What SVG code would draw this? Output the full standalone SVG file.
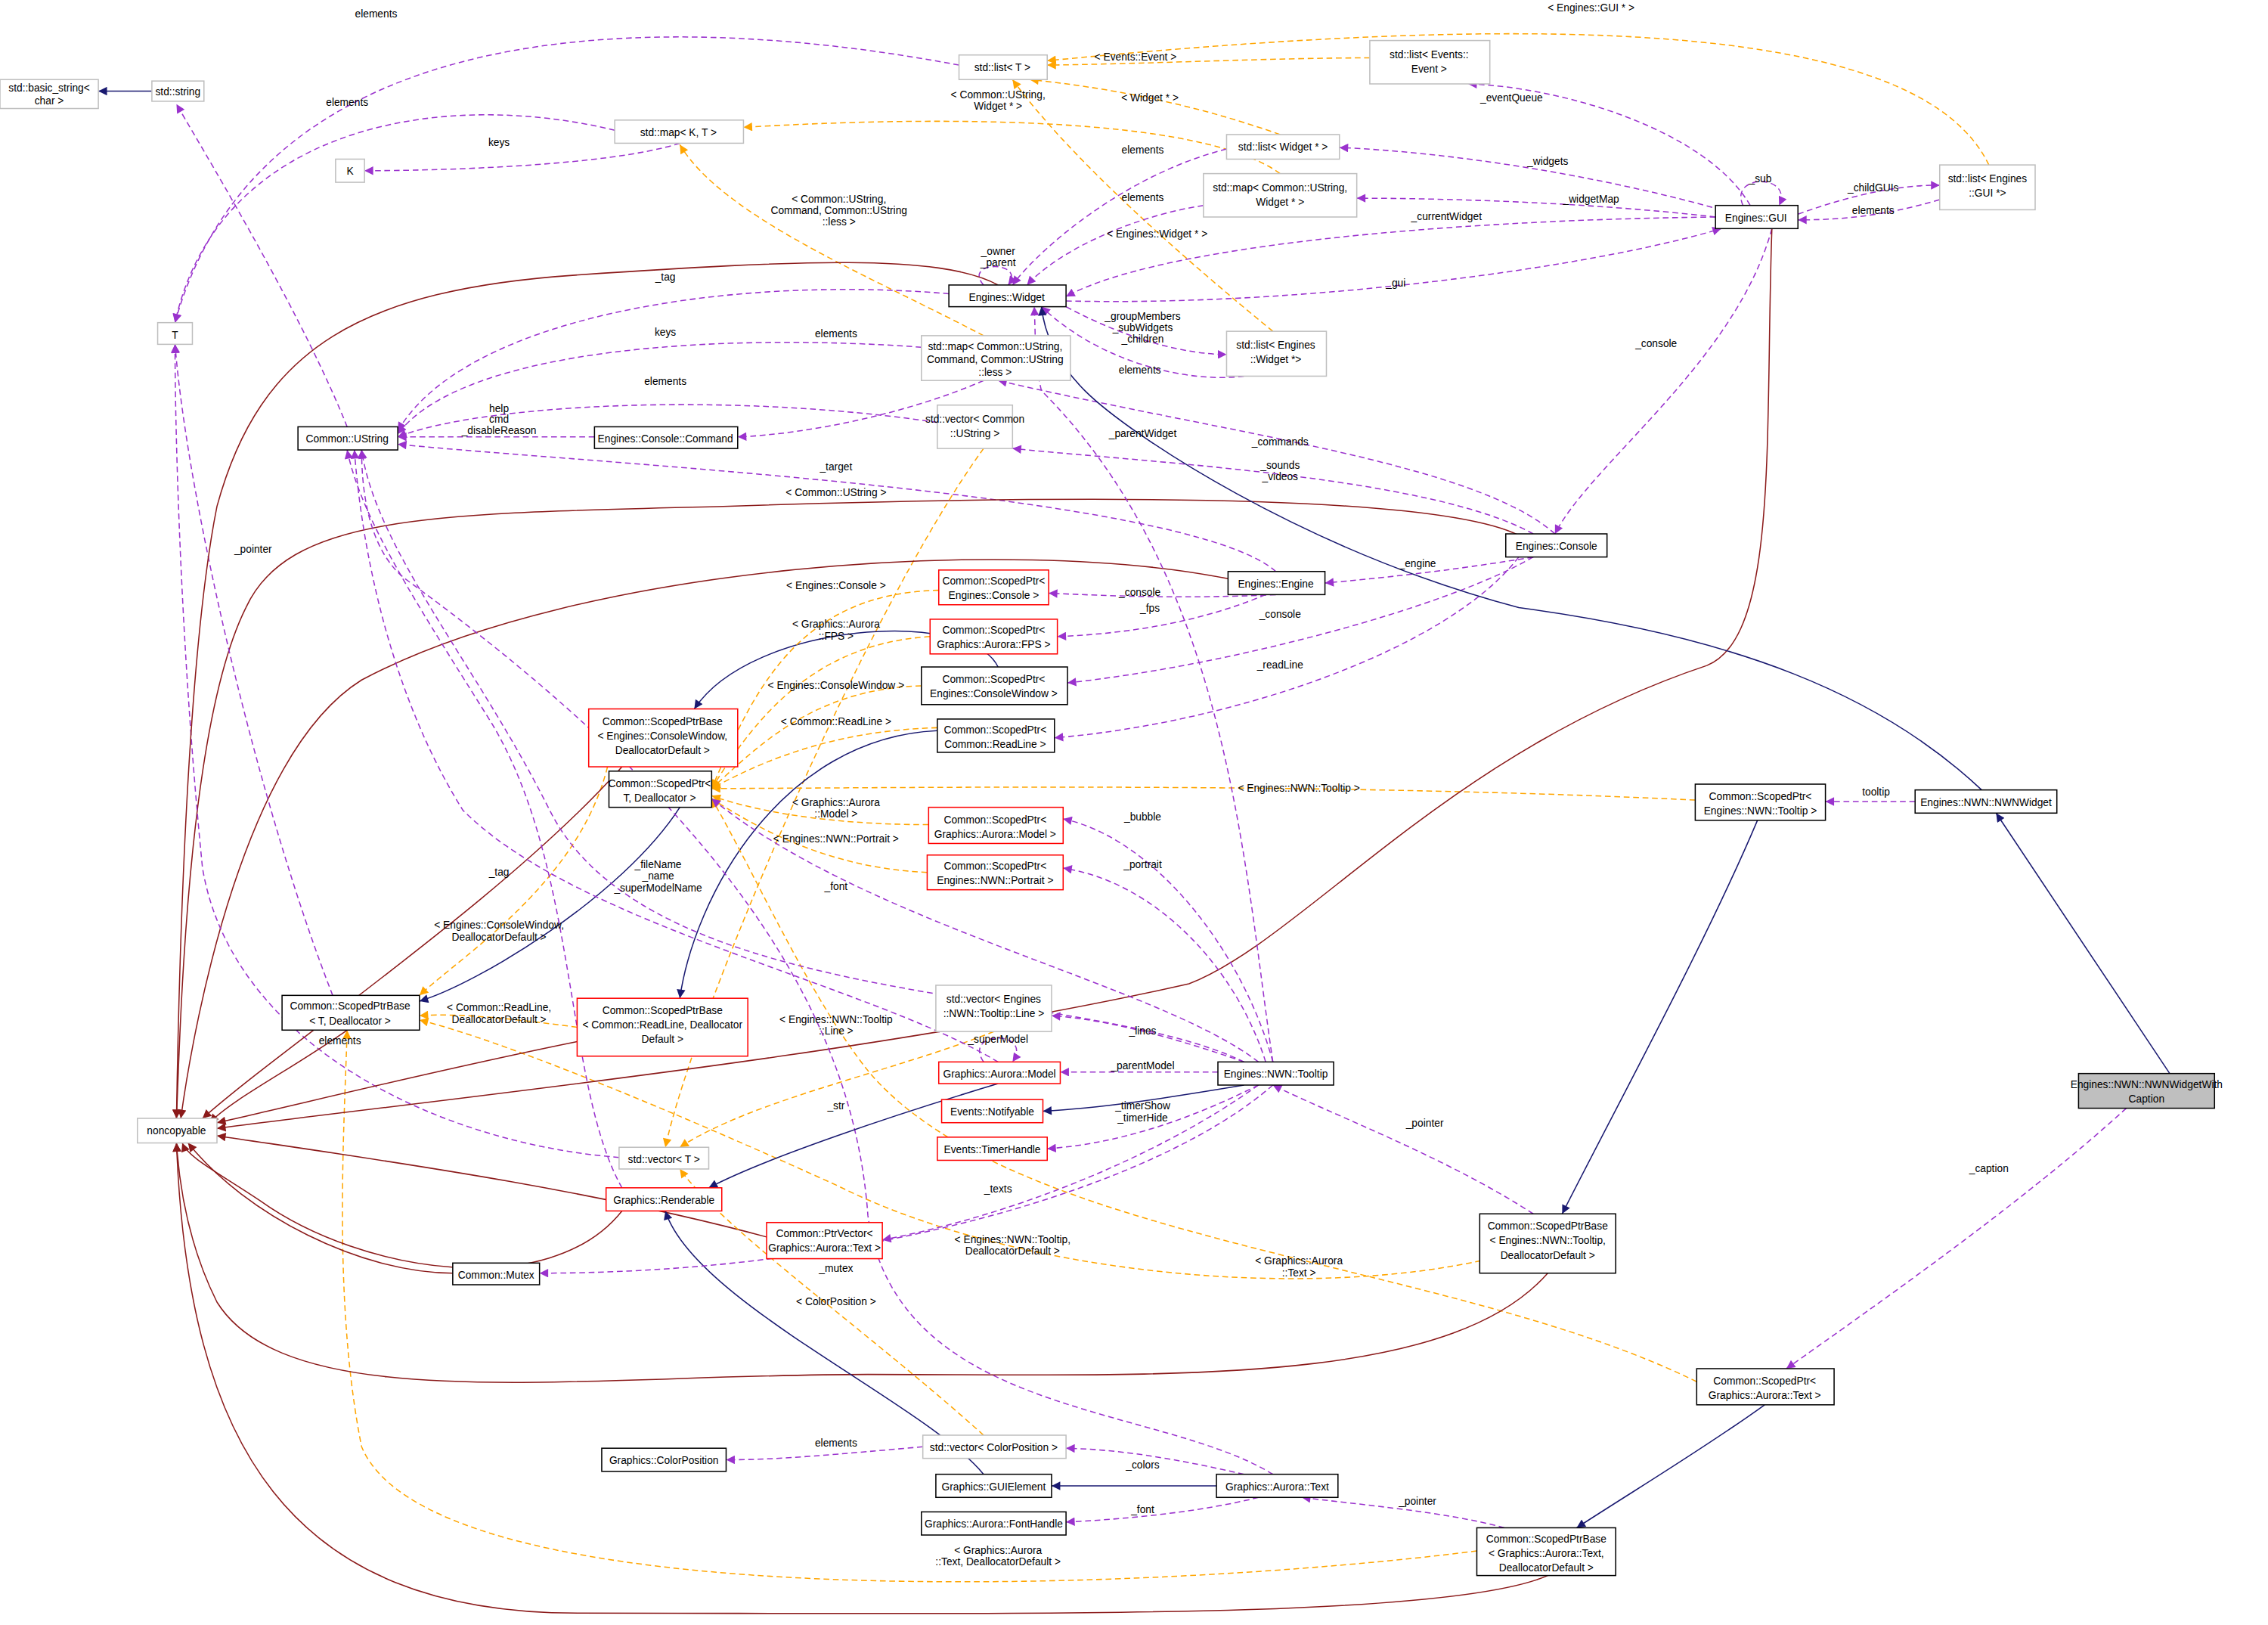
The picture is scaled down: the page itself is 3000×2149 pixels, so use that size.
<svg xmlns="http://www.w3.org/2000/svg" width="3000" height="2149" viewBox="0 0 3000 2149">
<style>
text{font-family:"Liberation Sans",Arial,sans-serif;font-size:7.2px;fill:#000}
.n text{text-anchor:middle}
.n rect{fill:#fff;stroke-width:0.8}
.b rect{stroke:#000}.r rect{stroke:#f00}.g rect{stroke:#bfbfbf}
.e path{fill:none;stroke-width:0.8}
.p{stroke:#9a32cd;stroke-dasharray:4,2.5;marker-end:url(#mp)}
.o{stroke:#ffa500;stroke-dasharray:4,2.5;marker-end:url(#mo)}
.v{stroke:#191970;marker-end:url(#mv)}
.d{stroke:#8b1a1a;marker-end:url(#md)}
.l text{text-anchor:middle}
</style>
<defs>
<marker id="mp" viewBox="0 0 10 10" refX="10" refY="5" markerWidth="8" markerHeight="6" markerUnits="userSpaceOnUse" orient="auto"><path d="M0,0L10,5L0,10z" fill="#9a32cd"/></marker>
<marker id="mo" viewBox="0 0 10 10" refX="10" refY="5" markerWidth="8" markerHeight="6" markerUnits="userSpaceOnUse" orient="auto"><path d="M0,0L10,5L0,10z" fill="#ffa500"/></marker>
<marker id="mv" viewBox="0 0 10 10" refX="10" refY="5" markerWidth="8" markerHeight="6" markerUnits="userSpaceOnUse" orient="auto"><path d="M0,0L10,5L0,10z" fill="#191970"/></marker>
<marker id="md" viewBox="0 0 10 10" refX="10" refY="5" markerWidth="8" markerHeight="6" markerUnits="userSpaceOnUse" orient="auto"><path d="M0,0L10,5L0,10z" fill="#8b1a1a"/></marker>
</defs>
<rect width="3000" height="2149" fill="#fff"/>
<g transform="scale(1.9133)">
<g id="edges" class="e">
<path class="v" d="M105,63L68,63"/>
<path class="p" d="M240,295C210,220 150,120 122,72"/>
<path class="p" d="M663,45C450,5 180,10 121,223"/>
<path class="p" d="M425,90C300,60 150,90 121,223"/>
<path class="p" d="M470,99C420,115 300,118 252,118"/>
<path class="o" d="M885,120C830,80 650,80 514,88"/>
<path class="o" d="M680,232C600,190 500,150 470,100"/>
<path class="o" d="M947,40C880,40 800,44 724,45"/>
<path class="o" d="M885,93C820,70 760,60 712,55"/>
<path class="o" d="M1375,114C1330,20 1100,5 724,42"/>
<path class="o" d="M880,229C820,180 740,110 700,55"/>
<path class="p" d="M1210,142C1180,90 1080,60 1015,58"/>
<path class="p" d="M1190,145C1100,120 1000,105 926,102"/>
<path class="p" d="M1186,150C1100,140 1000,137 938,137"/>
<path class="p" d="M1186,150C1000,152 800,170 737,205"/>
<path class="p" d="M1205,142C1195,120 1240,120 1230,142"/>
<path class="p" d="M1243,148C1280,135 1310,128 1341,128"/>
<path class="p" d="M1341,138C1300,150 1270,152 1243,152"/>
<path class="p" d="M737,208C900,212 1100,185 1190,158"/>
<path class="p" d="M1225,158C1200,250 1100,320 1075,369"/>
<path class="p" d="M680,197C665,180 710,180 697,197"/>
<path class="p" d="M848,103C780,120 720,170 700,197"/>
<path class="p" d="M832,142C780,150 730,175 710,197"/>
<path class="p" d="M737,212C780,235 820,245 848,245"/>
<path class="p" d="M860,260C820,265 760,250 720,212"/>
<path class="p" d="M656,203C500,190 320,220 275,298"/>
<path class="p" d="M637,240C500,230 320,240 275,300"/>
<path class="p" d="M680,263C630,285 560,300 510,302"/>
<path class="p" d="M648,292C500,270 330,280 275,302"/>
<path class="p" d="M411,302L275,302"/>
<path class="p" d="M1075,369C1020,320 850,300 690,263"/>
<path class="p" d="M1060,369C990,330 800,320 700,310"/>
<path class="p" d="M882,395C820,340 400,320 275,307"/>
<path class="d" d="M1050,370C1000,345 800,340 500,350C300,355 200,355 170,420C130,500 125,700 122,773"/>
<path class="o" d="M680,310C600,420 480,700 460,793"/>
<path class="p" d="M1060,385C1000,395 950,400 916,403"/>
<path class="p" d="M882,411C820,414 770,412 725,410"/>
<path class="p" d="M875,411C830,430 780,438 731,440"/>
<path class="p" d="M1060,385C1000,420 850,460 738,472"/>
<path class="p" d="M1050,385C1000,450 850,500 729,510"/>
<path class="d" d="M849,400C700,370 400,390 250,470C170,520 135,700 125,773"/>
<path class="v" d="M470,558C430,620 330,680 290,692"/>
<path class="v" d="M690,461C670,420 520,430 480,490"/>
<path class="v" d="M648,505C540,510 480,620 470,690"/>
<path class="o" d="M649,408C550,410 520,480 492,545"/>
<path class="o" d="M643,440C560,445 520,500 492,545"/>
<path class="o" d="M637,474C560,476 520,520 492,545"/>
<path class="o" d="M648,503C570,505 520,530 492,545"/>
<path class="o" d="M642,570C570,570 520,560 492,550"/>
<path class="o" d="M641,603C570,600 520,570 492,552"/>
<path class="o" d="M1172,553C900,540 600,545 492,545"/>
<path class="o" d="M1173,955C1000,870 700,860 600,740C560,690 520,600 492,552"/>
<path class="o" d="M420,530C400,610 320,660 290,688"/>
<path class="o" d="M399,710C360,705 320,700 290,702"/>
<path class="o" d="M1030,870C900,900 700,880 580,820C470,770 350,720 290,705"/>
<path class="o" d="M1021,1072C800,1100 300,1120 250,1000C230,900 238,780 240,712"/>
<path class="p" d="M230,688C180,560 130,350 121,238"/>
<path class="p" d="M428,800C300,790 160,720 140,600C125,450 121,300 121,238"/>
<path class="d" d="M240,712C200,740 160,760 145,776"/>
<path class="d" d="M430,530C350,620 200,720 140,773"/>
<path class="d" d="M399,720C300,740 200,765 150,776"/>
<path class="d" d="M430,837C380,900 250,880 180,830C150,810 130,800 126,790"/>
<path class="d" d="M313,880C250,880 170,840 130,790"/>
<path class="d" d="M530,855C400,820 250,800 150,785"/>
<path class="d" d="M1070,880C1000,960 800,950 600,950C400,950 200,980 150,900C130,860 124,820 122,790"/>
<path class="d" d="M1070,1089C1000,1120 700,1115 400,1115C200,1115 130,1000 122,790"/>
<path class="d" d="M1225,158C1220,300 1230,440 1180,460C1000,520 900,650 822,680C600,730 300,760 150,780"/>
<path class="d" d="M690,197C650,175 550,180 400,190C250,200 180,240 150,350C130,450 124,650 122,773"/>
<path class="v" d="M1500,742L1380,562"/>
<path class="v" d="M1370,546C1300,480 1200,440 1050,420C900,380 780,300 750,270C730,250 722,230 720,212"/>
<path class="p" d="M1324,554L1262,554"/>
<path class="v" d="M1215,567C1180,650 1120,760 1080,839"/>
<path class="p" d="M1060,839C1000,800 920,770 880,750"/>
<path class="p" d="M1470,766C1400,830 1300,900 1235,946"/>
<path class="v" d="M1220,971C1180,1000 1130,1030 1090,1056"/>
<path class="p" d="M1040,1056C1000,1045 940,1040 900,1035"/>
<path class="v" d="M841,1027L727,1027"/>
<path class="v" d="M680,1019C640,970 480,900 460,837"/>
<path class="p" d="M860,1019C820,1010 780,1002 737,1001"/>
<path class="p" d="M638,1000C580,1005 540,1009 502,1009"/>
<path class="p" d="M870,1035C830,1045 780,1050 737,1052"/>
<path class="o" d="M680,992C600,920 500,850 470,808"/>
<path class="p" d="M880,1019C800,970 620,980 600,840C590,700 500,560 280,400C255,380 250,340 250,311"/>
<path class="v" d="M690,749C620,770 530,800 490,821"/>
<path class="p" d="M680,734C665,712 715,712 700,734"/>
<path class="p" d="M842,741L733,741"/>
<path class="p" d="M860,734C820,720 770,705 727,702"/>
<path class="o" d="M687,713C620,740 520,760 470,793"/>
<path class="v" d="M860,750C800,760 760,766 721,768"/>
<path class="p" d="M870,750C830,770 780,790 724,794"/>
<path class="p" d="M870,750C800,800 700,840 610,857"/>
<path class="p" d="M880,750C800,820 600,880 373,880"/>
<path class="p" d="M880,734C860,660 800,580 735,566"/>
<path class="p" d="M875,734C855,670 800,610 735,600"/>
<path class="p" d="M870,734C800,680 600,640 492,552"/>
<path class="p" d="M880,734C860,600 850,400 720,270C715,250 716,230 715,212"/>
<path class="p" d="M860,734C750,680 450,700 380,560C330,460 260,380 250,311"/>
<path class="p" d="M690,734C600,680 400,640 320,560C270,480 250,380 245,311"/>
<path class="p" d="M430,821C390,750 400,600 340,500C290,420 250,360 240,311"/>
</g>
<g id="labels" class="l">
<text x="260" y="12">elements</text><text x="240" y="73">elements</text><text x="345" y="101">keys</text>
<text x="690" y="68">&lt; Common::UString,</text><text x="690" y="76">Widget * &gt;</text>
<text x="580" y="140">&lt; Common::UString,</text><text x="580" y="148">Command, Common::UString</text><text x="580" y="156">::less &gt;</text>
<text x="785" y="42">&lt; Events::Event &gt;</text><text x="795" y="70">&lt; Widget * &gt;</text><text x="1100" y="8">&lt; Engines::GUI * &gt;</text>
<text x="800" y="164">&lt; Engines::Widget * &gt;</text>
<text x="1045" y="70">_eventQueue</text><text x="1070" y="114">_widgets</text><text x="1100" y="140">_widgetMap</text>
<text x="1000" y="152">_currentWidget</text><text x="1217" y="126">_sub</text><text x="1295" y="132">_childGUIs</text><text x="1295" y="148">elements</text>
<text x="965" y="198">_gui</text><text x="1145" y="240">_console</text><text x="690" y="176">_owner</text><text x="690" y="184">_parent</text>
<text x="790" y="106">elements</text><text x="790" y="139">elements</text>
<text x="790" y="221">_groupMembers</text><text x="790" y="229">_subWidgets</text><text x="790" y="237">_children</text>
<text x="788" y="258">elements</text><text x="460" y="194">_tag</text><text x="460" y="232">keys</text><text x="578" y="233">elements</text>
<text x="460" y="266">elements</text><text x="345" y="285">help</text><text x="345" y="292">cmd</text><text x="345" y="300">_disableReason</text>
<text x="885" y="308">_commands</text><text x="790" y="302">_parentWidget</text><text x="885" y="324">_sounds</text><text x="885" y="332">_videos</text>
<text x="578" y="325">_target</text><text x="578" y="343">&lt; Common::UString &gt;</text>
<text x="980" y="392">_engine</text><text x="788" y="412">_console</text><text x="795" y="423">_fps</text><text x="885" y="427">_console</text><text x="885" y="462">_readLine</text>
<text x="578" y="407">&lt; Engines::Console &gt;</text><text x="578" y="434">&lt; Graphics::Aurora</text><text x="578" y="442">::FPS &gt;</text>
<text x="578" y="476">&lt; Engines::ConsoleWindow &gt;</text><text x="578" y="501">&lt; Common::ReadLine &gt;</text>
<text x="578" y="557">&lt; Graphics::Aurora</text><text x="578" y="565">::Model &gt;</text><text x="578" y="582">&lt; Engines::NWN::Portrait &gt;</text>
<text x="898" y="547">&lt; Engines::NWN::Tooltip &gt;</text><text x="898" y="874">&lt; Graphics::Aurora</text><text x="898" y="882">::Text &gt;</text>
<text x="345" y="642">&lt; Engines::ConsoleWindow,</text><text x="345" y="650">DeallocatorDefault &gt;</text>
<text x="345" y="699">&lt; Common::ReadLine,</text><text x="345" y="707">DeallocatorDefault &gt;</text>
<text x="700" y="859">&lt; Engines::NWN::Tooltip,</text><text x="700" y="867">DeallocatorDefault &gt;</text>
<text x="690" y="1074">&lt; Graphics::Aurora</text><text x="690" y="1082">::Text, DeallocatorDefault &gt;</text>
<text x="175" y="382">_pointer</text><text x="235" y="722">elements</text><text x="1297" y="550">tooltip</text><text x="985" y="779">_pointer</text>
<text x="1375" y="810">_caption</text><text x="980" y="1040">_pointer</text><text x="790" y="1015">_colors</text><text x="578" y="1000">elements</text>
<text x="790" y="1046">_font</text><text x="578" y="902">&lt; ColorPosition &gt;</text><text x="578" y="767">_str</text>
<text x="690" y="721">_superModel</text><text x="790" y="739">_parentModel</text><text x="790" y="715">_lines</text>
<text x="578" y="707">&lt; Engines::NWN::Tooltip</text><text x="578" y="715">::Line &gt;</text>
<text x="790" y="767">_timerShow</text><text x="790" y="775">_timerHide</text><text x="690" y="824">_texts</text><text x="578" y="879">_mutex</text>
<text x="790" y="567">_bubble</text><text x="790" y="600">_portrait</text><text x="578" y="615">_font</text><text x="345" y="605">_tag</text>
<text x="455" y="600">_fileName</text><text x="455" y="608">_name</text><text x="455" y="616">_superModelName</text>
</g>
<g id="n_bs" class="n g"><rect x="0" y="55" width="68" height="20"/><text x="34" y="63">std::basic_string&lt;</text><text x="34" y="72">char &gt;</text></g>
<g id="n_str" class="n g"><rect x="105" y="56" width="36" height="14"/><text x="123" y="66">std::string</text></g>
<g id="n_listT" class="n g"><rect x="663" y="38" width="61" height="17"/><text x="693" y="49">std::list&lt; T &gt;</text></g>
<g id="n_listEv" class="n g"><rect x="947" y="28" width="83" height="30"/><text x="988" y="40">std::list&lt; Events::</text><text x="988" y="50">Event &gt;</text></g>
<g id="n_mapKT" class="n g"><rect x="425" y="83" width="89" height="16"/><text x="469" y="94">std::map&lt; K, T &gt;</text></g>
<g id="n_K" class="n g"><rect x="232" y="110" width="20" height="16"/><text x="242" y="121">K</text></g>
<g id="n_listW" class="n g"><rect x="848" y="93" width="78" height="17"/><text x="887" y="104">std::list&lt; Widget * &gt;</text></g>
<g id="n_mapW" class="n g"><rect x="832" y="120" width="106" height="30"/><text x="885" y="132">std::map&lt; Common::UString,</text><text x="885" y="142">Widget * &gt;</text></g>
<g id="n_gui" class="n b"><rect x="1186" y="142" width="57" height="16"/><text x="1214" y="153">Engines::GUI</text></g>
<g id="n_listGUI" class="n g"><rect x="1341" y="114" width="66" height="31"/><text x="1374" y="126">std::list&lt; Engines</text><text x="1374" y="136">::GUI *&gt;</text></g>
<g id="n_widget" class="n b"><rect x="656" y="197" width="81" height="15"/><text x="696" y="208">Engines::Widget</text></g>
<g id="n_T" class="n g"><rect x="109" y="223" width="24" height="15"/><text x="121" y="234">T</text></g>
<g id="n_mapCmd" class="n g"><rect x="637" y="232" width="103" height="31"/><text x="688" y="242">std::map&lt; Common::UString,</text><text x="688" y="251">Command, Common::UString</text><text x="688" y="260">::less &gt;</text></g>
<g id="n_listEW" class="n g"><rect x="848" y="229" width="69" height="31"/><text x="882" y="241">std::list&lt; Engines</text><text x="882" y="251">::Widget *&gt;</text></g>
<g id="n_ustr" class="n b"><rect x="206" y="295" width="69" height="16"/><text x="240" y="306">Common::UString</text></g>
<g id="n_cmd" class="n b"><rect x="411" y="295" width="99" height="15"/><text x="460" y="306">Engines::Console::Command</text></g>
<g id="n_vecU" class="n g"><rect x="648" y="280" width="52" height="30"/><text x="674" y="292">std::vector&lt; Common</text><text x="674" y="302">::UString &gt;</text></g>
<g id="n_console" class="n b"><rect x="1041" y="369" width="70" height="16"/><text x="1076" y="380">Engines::Console</text></g>
<g id="n_engine" class="n b"><rect x="849" y="395" width="67" height="16"/><text x="882" y="406">Engines::Engine</text></g>
<g id="n_spCon" class="n r"><rect x="649" y="394" width="76" height="24"/><text x="687" y="404">Common::ScopedPtr&lt;</text><text x="687" y="414">Engines::Console &gt;</text></g>
<g id="n_spFPS" class="n r"><rect x="643" y="428" width="88" height="24"/><text x="687" y="438">Common::ScopedPtr&lt;</text><text x="687" y="448">Graphics::Aurora::FPS &gt;</text></g>
<g id="n_spCW" class="n b"><rect x="637" y="461" width="101" height="26"/><text x="687" y="472">Common::ScopedPtr&lt;</text><text x="687" y="482">Engines::ConsoleWindow &gt;</text></g>
<g id="n_spbCW" class="n r"><rect x="407" y="490" width="103" height="40"/><text x="458" y="501">Common::ScopedPtrBase</text><text x="458" y="511">&lt; Engines::ConsoleWindow,</text><text x="458" y="521">DeallocatorDefault &gt;</text></g>
<g id="n_spRL" class="n b"><rect x="648" y="497" width="81" height="23"/><text x="688" y="507">Common::ScopedPtr&lt;</text><text x="688" y="517">Common::ReadLine &gt;</text></g>
<g id="n_spT" class="n b"><rect x="421" y="533" width="71" height="25"/><text x="456" y="544">Common::ScopedPtr&lt;</text><text x="456" y="554">T, Deallocator &gt;</text></g>
<g id="n_spTT" class="n b"><rect x="1172" y="542" width="90" height="25"/><text x="1217" y="553">Common::ScopedPtr&lt;</text><text x="1217" y="563">Engines::NWN::Tooltip &gt;</text></g>
<g id="n_nwnw" class="n b"><rect x="1324" y="546" width="98" height="16"/><text x="1373" y="557">Engines::NWN::NWNWidget</text></g>
<g id="n_spMod" class="n r"><rect x="642" y="558" width="93" height="25"/><text x="688" y="569">Common::ScopedPtr&lt;</text><text x="688" y="579">Graphics::Aurora::Model &gt;</text></g>
<g id="n_spPor" class="n r"><rect x="641" y="591" width="94" height="24"/><text x="688" y="601">Common::ScopedPtr&lt;</text><text x="688" y="611">Engines::NWN::Portrait &gt;</text></g>
<g id="n_spbT" class="n b"><rect x="195" y="688" width="95" height="24"/><text x="242" y="698">Common::ScopedPtrBase</text><text x="242" y="708">&lt; T, Deallocator &gt;</text></g>
<g id="n_spbRL" class="n r"><rect x="399" y="690" width="118" height="40"/><text x="458" y="701">Common::ScopedPtrBase</text><text x="458" y="711">&lt; Common::ReadLine, Deallocator</text><text x="458" y="721">Default &gt;</text></g>
<g id="n_vecLine" class="n g"><rect x="647" y="681" width="80" height="32"/><text x="687" y="693">std::vector&lt; Engines</text><text x="687" y="703">::NWN::Tooltip::Line &gt;</text></g>
<g id="n_model" class="n r"><rect x="649" y="734" width="84" height="15"/><text x="691" y="745">Graphics::Aurora::Model</text></g>
<g id="n_tooltip" class="n b"><rect x="842" y="734" width="80" height="16"/><text x="882" y="745">Engines::NWN::Tooltip</text></g>
<g id="n_nwnwc"><rect x="1437" y="742" width="94" height="24" fill="#bfbfbf" stroke="#000" stroke-width="0.8"/><text x="1484" y="752" text-anchor="middle">Engines::NWN::NWNWidgetWith</text><text x="1484" y="762" text-anchor="middle">Caption</text></g>
<g id="n_nonc" class="n g"><rect x="95" y="773" width="55" height="17"/><text x="122" y="784">noncopyable</text></g>
<g id="n_notif" class="n r"><rect x="651" y="760" width="70" height="16"/><text x="686" y="771">Events::Notifyable</text></g>
<g id="n_timer" class="n r"><rect x="648" y="786" width="76" height="16"/><text x="686" y="797">Events::TimerHandle</text></g>
<g id="n_vecT" class="n g"><rect x="428" y="793" width="62" height="15"/><text x="459" y="804">std::vector&lt; T &gt;</text></g>
<g id="n_rend" class="n r"><rect x="419" y="821" width="80" height="16"/><text x="459" y="832">Graphics::Renderable</text></g>
<g id="n_ptrv" class="n r"><rect x="530" y="845" width="80" height="25"/><text x="570" y="855">Common::PtrVector&lt;</text><text x="570" y="865">Graphics::Aurora::Text &gt;</text></g>
<g id="n_mutex" class="n b"><rect x="313" y="873" width="60" height="15"/><text x="343" y="884">Common::Mutex</text></g>
<g id="n_spbTT" class="n b"><rect x="1023" y="839" width="94" height="41"/><text x="1070" y="850">Common::ScopedPtrBase</text><text x="1070" y="860">&lt; Engines::NWN::Tooltip,</text><text x="1070" y="870">DeallocatorDefault &gt;</text></g>
<g id="n_spTx" class="n b"><rect x="1173" y="946" width="95" height="25"/><text x="1220" y="957">Common::ScopedPtr&lt;</text><text x="1220" y="967">Graphics::Aurora::Text &gt;</text></g>
<g id="n_cpos" class="n b"><rect x="416" y="1001" width="86" height="16"/><text x="459" y="1012">Graphics::ColorPosition</text></g>
<g id="n_vecCP" class="n g"><rect x="638" y="992" width="99" height="16"/><text x="687" y="1003">std::vector&lt; ColorPosition &gt;</text></g>
<g id="n_guie" class="n b"><rect x="647" y="1019" width="80" height="16"/><text x="687" y="1030">Graphics::GUIElement</text></g>
<g id="n_text" class="n b"><rect x="841" y="1019" width="84" height="16"/><text x="883" y="1030">Graphics::Aurora::Text</text></g>
<g id="n_font" class="n b"><rect x="637" y="1045" width="100" height="16"/><text x="687" y="1056">Graphics::Aurora::FontHandle</text></g>
<g id="n_spbTx" class="n b"><rect x="1021" y="1056" width="96" height="33"/><text x="1069" y="1066">Common::ScopedPtrBase</text><text x="1069" y="1076">&lt; Graphics::Aurora::Text,</text><text x="1069" y="1086">DeallocatorDefault &gt;</text></g>
</g>
</svg>
